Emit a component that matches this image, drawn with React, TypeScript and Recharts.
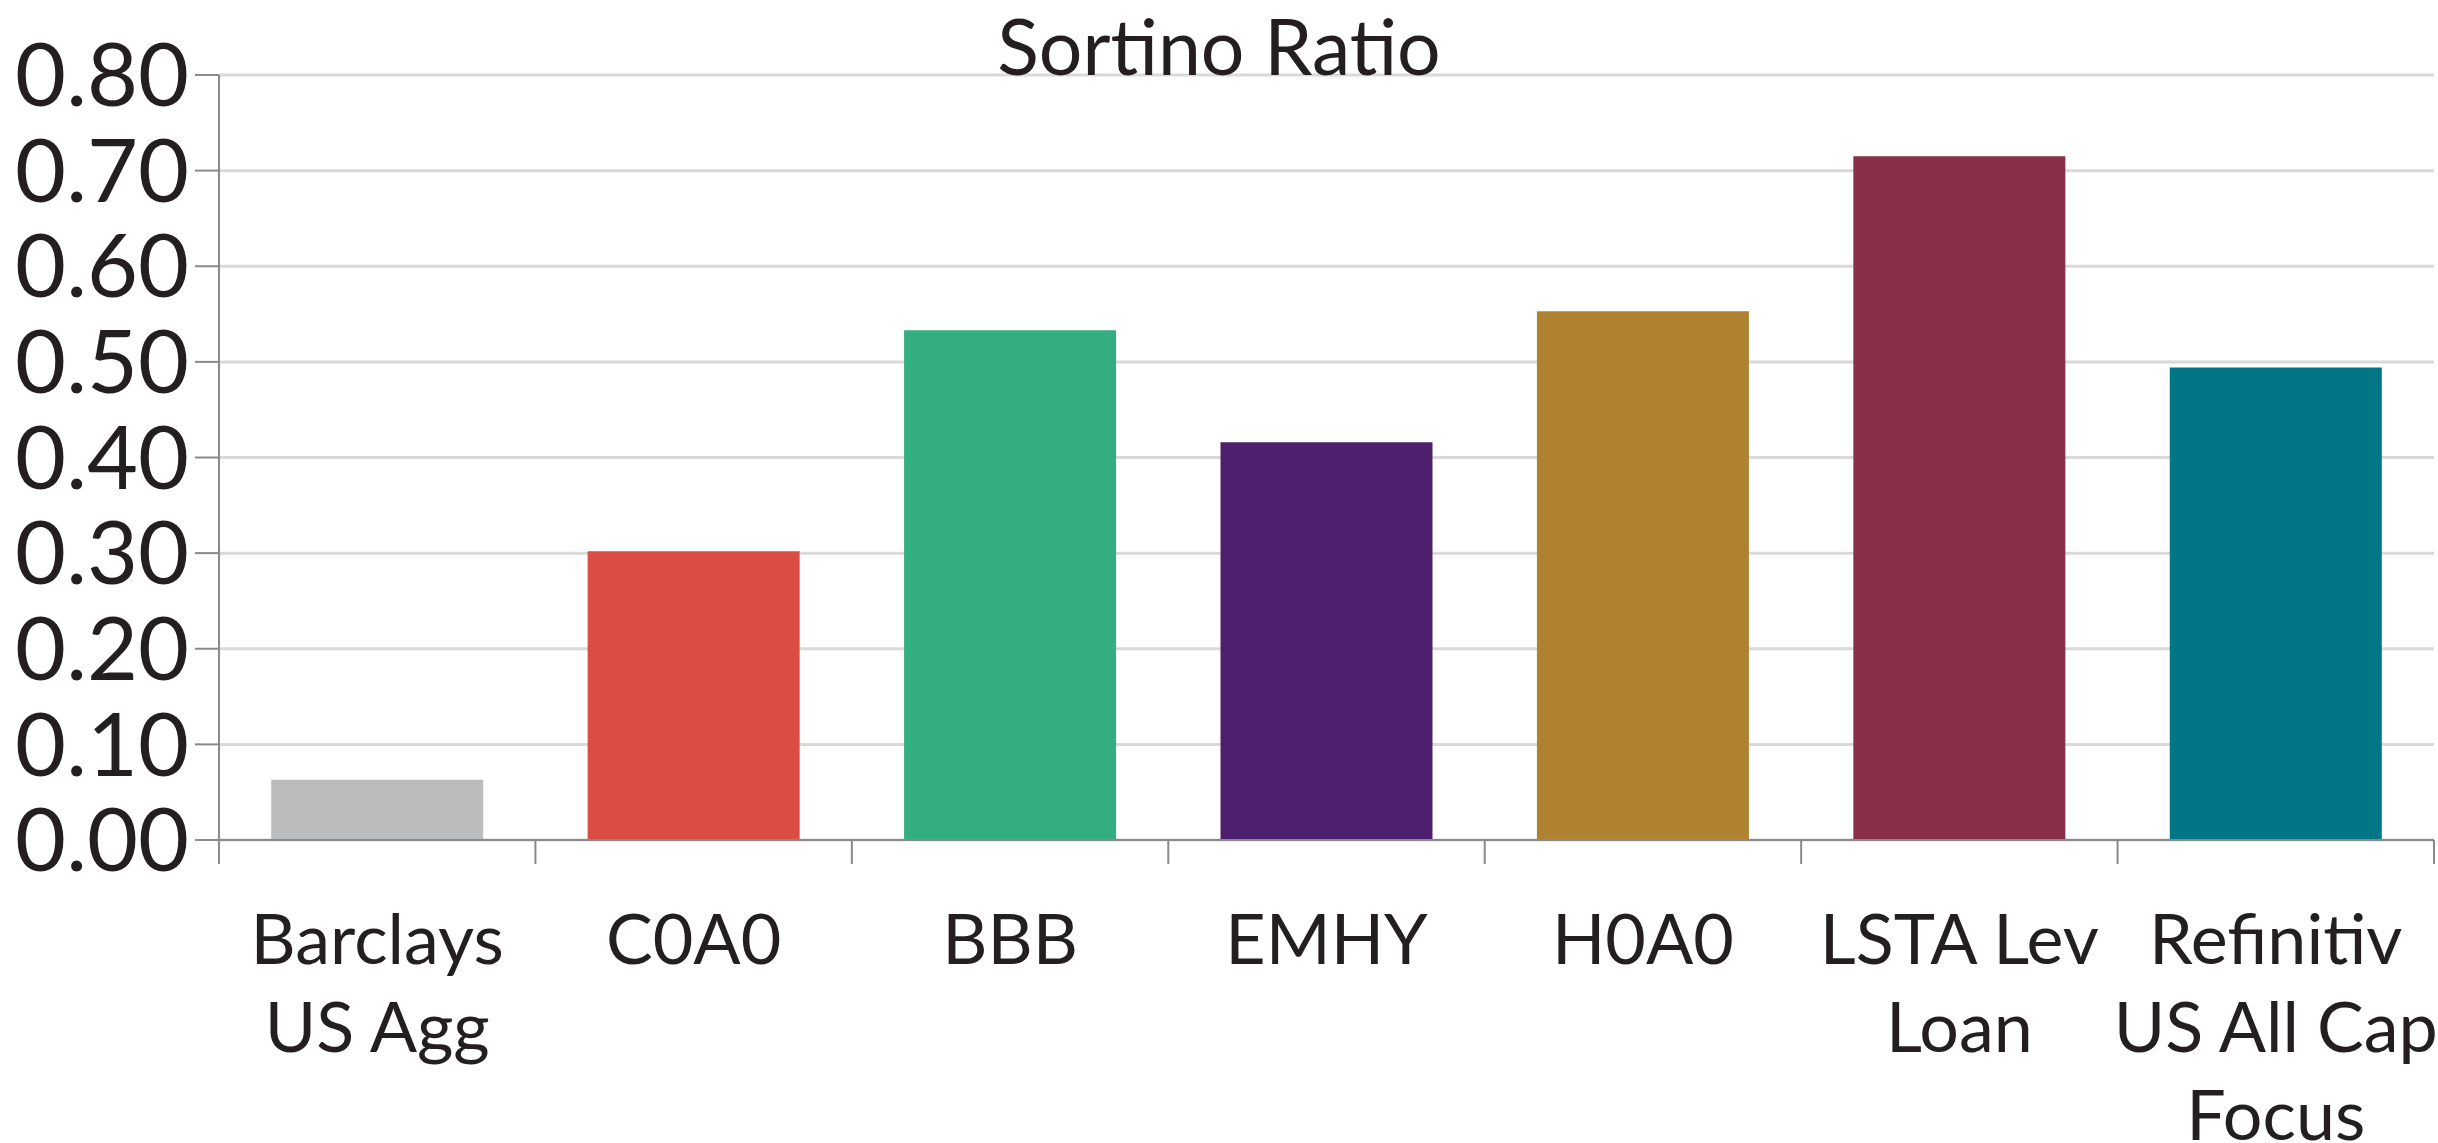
import { Bar, BarChart, CartesianGrid, Cell, XAxis, YAxis } from "recharts";

const categories = [
  "Barclays\nUS Agg",
  "C0A0",
  "BBB",
  "EMHY",
  "H0A0",
  "LSTA Lev\nLoan",
  "Refinitiv\nUS All Cap\nFocus",
];
const sortino = [0.063, 0.302, 0.533, 0.416, 0.553, 0.715, 0.494];
const barColors = ["#BBBCBE", "#DB4C44", "#33AE80", "#4E1F6C", "#AF8231", "#88304A", "#017685"];
const yTicks = [0, 0.1, 0.2, 0.3, 0.4, 0.5, 0.6, 0.7, 0.8];

const data = categories.map((name, i) => ({ name, value: sortino[i] }));

const FONT = "Lato, 'Open Sans', sans-serif";
const TEXT = "#231F20";
const AXIS = "#8A8A8A";

const CategoryTick = (props: any) => {
  const { x, y, payload, index } = props;
  const half = payload?.offset ?? 158;
  const lines = String(payload.value).split("\n");
  return (
    <g>
      <line x1={x - half} y1={y} x2={x - half} y2={y + 24} stroke={AXIS} strokeWidth={2} />
      {index === categories.length - 1 && (
        <line x1={x + half} y1={y} x2={x + half} y2={y + 24} stroke={AXIS} strokeWidth={2} />
      )}
      <text x={x} y={y + 124} textAnchor="middle" fill={TEXT} fontSize={70} fontFamily={FONT}>
        {lines.map((l, i) => (
          <tspan key={i} x={x} dy={i === 0 ? 0 : 88}>
            {l}
          </tspan>
        ))}
      </text>
    </g>
  );
};

export default function App() {
  return (
    <div style={{ position: "absolute", left: 0, top: 0, width: 2438, height: 1143, background: "#fff" }}>
      <BarChart
        width={2438}
        height={1143}
        data={data}
        margin={{ top: 75, right: 4, left: 0, bottom: 0 }}
        barCategoryGap="16.5%"
      >
        <CartesianGrid vertical={false} stroke="#D9D9D9" strokeWidth={3} />
        <YAxis
          domain={[0, 0.8]}
          ticks={yTicks}
          interval={0}
          width={219}
          tickFormatter={(v: number) => v.toFixed(2)}
          axisLine={{ stroke: AXIS, strokeWidth: 2 }}
          tickLine={{ stroke: AXIS, strokeWidth: 2 }}
          tickSize={24}
          tickMargin={6}
          tick={{ fill: TEXT, fontSize: 88, fontFamily: FONT }}
        />
        <XAxis
          dataKey="name"
          height={303}
          interval={0}
          axisLine={{ stroke: AXIS, strokeWidth: 2 }}
          tickLine={false}
          tickSize={0}
          tickMargin={0}
          tick={<CategoryTick />}
        />
        <Bar dataKey="value" isAnimationActive={false}>
          {data.map((d, i) => (
            <Cell key={`cell-${i}`} fill={barColors[i]} />
          ))}
        </Bar>
      </BarChart>
      <div
        style={{
          position: "absolute",
          left: 0,
          top: 0,
          width: 2438,
          zIndex: 2,
          textAlign: "center",
          fontFamily: FONT,
          fontSize: 77,
          lineHeight: "90px",
          color: TEXT,
        }}
      >
        Sortino Ratio
      </div>
    </div>
  );
}
